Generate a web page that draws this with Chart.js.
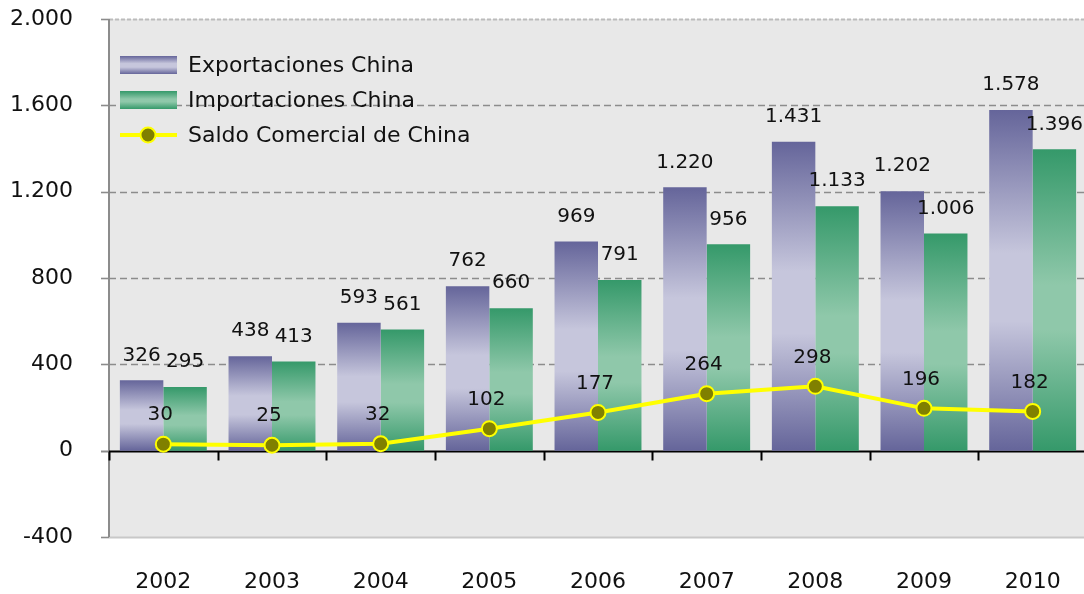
<!DOCTYPE html>
<html><head><meta charset="utf-8">
<script src="https://cdn.jsdelivr.net/npm/chart.js@4"></script>
<style>html,body{margin:0;padding:0;overflow:hidden;background:#fff}</style>
</head><body>
<canvas id="c" width="1087" height="594" style="display:block;width:1087px;height:594px"></canvas>
<script>
const years = ['2002','2003','2004','2005','2006','2007','2008','2009','2010'];
const exportaciones = [326, 438, 593, 762, 969, 1220, 1431, 1202, 1578];
const importaciones = [295, 413, 561, 660, 791, 956, 1133, 1006, 1396];
const saldo = [30, 25, 32, 102, 177, 264, 298, 196, 182];
const yMin = -400, yMax = 2000, yStep = 400;
const seriesNames = ['Exportaciones China', 'Importaciones China', 'Saldo Comercial de China'];

const FONT = '"DejaVu Sans", sans-serif';
const purpleStops = [[0,'#65659a'],[0.42,'#c6c6dc'],[0.62,'#c6c6dc'],[1,'#65659a']];
const greenStops = [[0,'#35996a'],[0.45,'#8fc8aa'],[0.6,'#8fc8aa'],[1,'#35996a']];

function fmt(n){ return String(n).replace(/\B(?=(\d{3})+(?!\d))/g,'.'); }

function barGradient(stops){
  return function(ctx){
    const chart = ctx.chart;
    if (!chart.chartArea || ctx.type !== 'data' || !chart.scales.y) return stops[0][1];
    const y = chart.scales.y;
    const top = y.getPixelForValue(ctx.raw);
    const base = y.getPixelForValue(0);
    if (!isFinite(top) || Math.abs(base-top) < 1) return stops[0][1];
    const g = chart.ctx.createLinearGradient(0, top, 0, base);
    stops.forEach(([o,c]) => g.addColorStop(o,c));
    return g;
  };
}

const framePlugin = {
  id: 'frame',
  beforeDatasetsDraw(chart){
    const c = chart.ctx, a = chart.chartArea, ys = chart.scales.y, xs = chart.scales.x;
    c.save();
    c.fillStyle = '#e8e8e8';
    c.fillRect(a.left, a.top, a.right - a.left, a.bottom - a.top);
    ys.ticks.forEach(t => {
      const py = Math.round(ys.getPixelForValue(t.value)) + 0.5;
      if (t.value === 0) return;
      c.beginPath();
      if (t.value === yMin) { c.setLineDash([]); c.strokeStyle = '#c8c8c8'; c.lineWidth = 2; }
      else if (t.value === yMax) { c.setLineDash([4,2]); c.strokeStyle = '#bcbcbc'; c.lineWidth = 2; }
      else { c.setLineDash([7,4]); c.strokeStyle = '#8c8c8c'; c.lineWidth = 1.6; }
      c.moveTo(a.left, py); c.lineTo(a.right, py); c.stroke();
      c.setLineDash([]); c.strokeStyle = '#8c8c8c'; c.lineWidth = 1.6;
      c.beginPath(); c.moveTo(a.left - 8, py); c.lineTo(a.left, py); c.stroke();
    });
    c.setLineDash([]);
    c.strokeStyle = '#8c8c8c'; c.lineWidth = 2;
    c.beginPath(); c.moveTo(a.left, a.top); c.lineTo(a.left, a.bottom); c.stroke();
    const p0 = Math.round(ys.getPixelForValue(0)) + 0.5;
    c.beginPath(); c.moveTo(a.left - 8, p0); c.lineTo(a.left, p0); c.stroke();
    c.strokeStyle = '#000'; c.lineWidth = 2;
    c.beginPath(); c.moveTo(a.left, p0); c.lineTo(a.right, p0); c.stroke();
    const n = years.length;
    for (let i = 0; i < n; i++) {
      const bx = i === 0 ? a.left : (xs.getPixelForValue(i-1) + xs.getPixelForValue(i)) / 2;
      c.beginPath(); c.moveTo(Math.round(bx)+0.5, p0); c.lineTo(Math.round(bx)+0.5, p0 + 9); c.stroke();
    }
    c.restore();
  }
};

const labelPlugin = {
  id: 'vlabels',
  afterDatasetsDraw(chart){
    const c = chart.ctx;
    c.save();
    c.font = '20px ' + FONT;
    c.fillStyle = '#111';
    c.textAlign = 'center';
    c.textBaseline = 'middle';
    chart.data.datasets.forEach((ds, di) => {
      const meta = chart.getDatasetMeta(di);
      meta.data.forEach((el, i) => {
        const v = ds.data[i];
        if (ds.type === 'line') c.fillText(fmt(v), el.x - 3, el.y - 29);
        else c.fillText(fmt(v), el.x, el.y - 25);
      });
    });
    c.restore();
  }
};

const legendPlugin = {
  id: 'customLegend',
  afterDraw(chart){
    const c = chart.ctx, a = chart.chartArea;
    const x0 = a.left + 11, w = 57, h = 18;
    const rows = [a.top + 46, a.top + 81, a.top + 116];
    c.save();
    [purpleStops, greenStops].forEach((stops, k) => {
      const cy = rows[k];
      const g = c.createLinearGradient(0, cy - h/2, 0, cy + h/2);
      stops.forEach(([o,col]) => g.addColorStop(o,col));
      c.fillStyle = g;
      c.fillRect(x0, cy - h/2, w, h);
    });
    const ly = rows[2];
    c.strokeStyle = '#ffff00'; c.lineWidth = 4;
    c.beginPath(); c.moveTo(x0, ly); c.lineTo(x0 + w, ly); c.stroke();
    c.beginPath(); c.arc(x0 + 28, ly, 7.5, 0, Math.PI*2);
    c.fillStyle = '#808000'; c.fill(); c.lineWidth = 2; c.stroke();
    c.font = '22px ' + FONT; c.fillStyle = '#111';
    c.textAlign = 'left'; c.textBaseline = 'middle';
    seriesNames.forEach((t, k) => c.fillText(t, x0 + 68, rows[k] + 1));
    c.restore();
  }
};

new Chart(document.getElementById('c'), {
  data: {
    labels: years,
    datasets: [
      { type: 'line', label: seriesNames[2], data: saldo, order: 0,
        borderColor: '#ffff00', borderWidth: 4, tension: 0,
        pointRadius: 7.5, pointBackgroundColor: '#808000', pointBorderColor: '#ffff00', pointBorderWidth: 2 },
      { type: 'bar', label: seriesNames[0], data: exportaciones, order: 1,
        backgroundColor: barGradient(purpleStops), borderWidth: 0,
        categoryPercentage: 0.8, barPercentage: 1.0 },
      { type: 'bar', label: seriesNames[1], data: importaciones, order: 1,
        backgroundColor: barGradient(greenStops), borderWidth: 0,
        categoryPercentage: 0.8, barPercentage: 1.0 }
    ]
  },
  options: {
    responsive: false,
    animation: false,
    devicePixelRatio: 1,
    layout: { autoPadding: false, padding: { top: 19, right: 0, left: 0, bottom: 0 } },
    plugins: { legend: { display: false }, tooltip: { enabled: false } },
    scales: {
      x: {
        offset: true,
        grid: { display: false },
        border: { display: false },
        ticks: { color: '#111', font: { family: FONT, size: 22 }, padding: 24 },
        afterFit(s){ s.height = 57; s.paddingLeft = 0; s.paddingRight = 0; }
      },
      y: {
        min: yMin, max: yMax,
        grid: { display: false },
        border: { display: false },
        ticks: { stepSize: yStep, color: '#111', font: { family: FONT, size: 22 }, padding: 28,
                 callback: v => fmt(v) },
        afterFit(s){ s.width = 109; s.paddingTop = 0; s.paddingBottom = 0; }
      }
    }
  },
  plugins: [framePlugin, labelPlugin, legendPlugin]
});
</script>
</body></html>
